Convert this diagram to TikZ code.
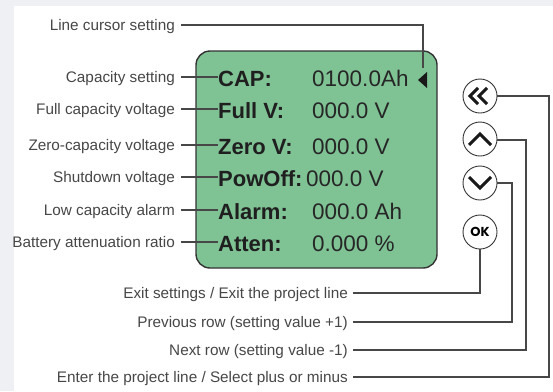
\documentclass[tikz,border=0pt]{standalone}
\usepackage{fontspec}
\setmainfont{Liberation Sans}
\newfontfamily\okfont{Poppins}
\definecolor{bggrey}{HTML}{EEF0F3}
\definecolor{lcdgreen}{RGB}{127,195,149}
\definecolor{ink}{HTML}{333333}
\definecolor{wire}{HTML}{474747}
\tikzset{
  lab/.style={anchor=east, inner xsep=6bp, inner ysep=0pt, text height=11bp, text depth=0pt,
    font=\fontsize{15.3bp}{17bp}\selectfont, text=ink!90},
  blab/.style={lab, inner xsep=5bp},
  key/.style={anchor=west, inner sep=0pt, text height=15.8bp, text depth=0pt,
    font=\fontsize{22bp}{24bp}\selectfont\bfseries, text=black!88},
  val/.style={anchor=west, inner sep=0pt, text height=15.8bp, text depth=0pt,
    font=\fontsize{22.5bp}{24bp}\selectfont, text=black!85},
  wirestyle/.style={draw=wire, line width=1.1bp},
  btn/.style={circle, draw=ink, line width=0.9bp, minimum size=34bp, inner sep=0pt, fill=white},
  chev/.style={draw=black!90, line width=3bp, line cap=butt, line join=miter}
}
\begin{document}
\begin{tikzpicture}[x=1bp,y=-1bp]
\useasboundingbox (0,0) rectangle (553,391);
\fill[bggrey] (0,0) rectangle (553,391);
\fill[white] (14,6) rectangle (553,391);
% LCD box
\draw[fill=lcdgreen, draw=ink, line width=1.4bp, rounded corners=14bp] (196,51) rectangle (437,268);
% cursor triangle
\fill[black!90] (418,80) -- (427,72) -- (427,88) -- cycle;
\coordinate (cur) at (423,68);
% Left labels
\node[lab] (lcs) at (181,25) {Line cursor setting};
\draw[wirestyle] (lcs.east) -| (cur);
% rows
\foreach \n/\y/\lbl/\k/\v/\vx in {
  r1/77/Capacity setting/CAP:/0100.0Ah/312,
  r2/109/Full capacity voltage/Full V:/000.0 V/312,
  r3/145/Zero-capacity voltage/Zero V:/000.0 V/312,
  r4/177/Shutdown voltage/PowOff:/000.0 V/306,
  r5/210/Low capacity alarm/Alarm:/000.0 Ah/312,
  r6/242/Battery attenuation ratio/Atten:/0.000 \%/312}{
  \node[lab] (\n l) at (181,\y) {\lbl};
  \node[key] (\n k) at (218,\y+1.5) {\k};
  \node[val] (\n v) at (\vx,\y+1.5) {\v};
  \draw[wirestyle] (\n l.east) -- (\n l.east -| \n k.west);
}
% Buttons
\node[btn] (bback) at (480,96) {};
\node[btn] (bup) at (480,139) {};
\node[btn] (bdown) at (480,183) {};
\node[btn] (bok) at (480,232) {\okfont\bfseries\fontsize{13bp}{14bp}\selectfont OK};
% icons
\draw[chev] (470+8,88) -- (470,96) -- (470+8,104);
\draw[chev] (479+8,88) -- (479,96) -- (479+8,104);
\draw[chev] (469,145) -- (480,134) -- (491,145);
\draw[chev] (469,177) -- (480,188) -- (491,177);
% bottom labels
\node[blab] (bex) at (353,293) {Exit settings / Exit the project line};
\node[blab] (bprev) at (353,322) {Previous row (setting value +1)};
\node[blab] (bnext) at (353,350) {Next row (setting value -1)};
\node[blab] (benter) at (353,377) {Enter the project line / Select plus or minus};
\coordinate (cprev) at (512,183);
\coordinate (cnext) at (526,140);
\coordinate (center) at (549,96);
\draw[wirestyle] (bex.east) -| (bok.south);
\draw[wirestyle] (bprev.east) -| (cprev) -- (bdown.east);
\draw[wirestyle] (bnext.east) -| (cnext) -- (bup.east |- cnext);
\draw[wirestyle] (benter.east) -| (center) -- (bback.east);
\end{tikzpicture}
\end{document}
